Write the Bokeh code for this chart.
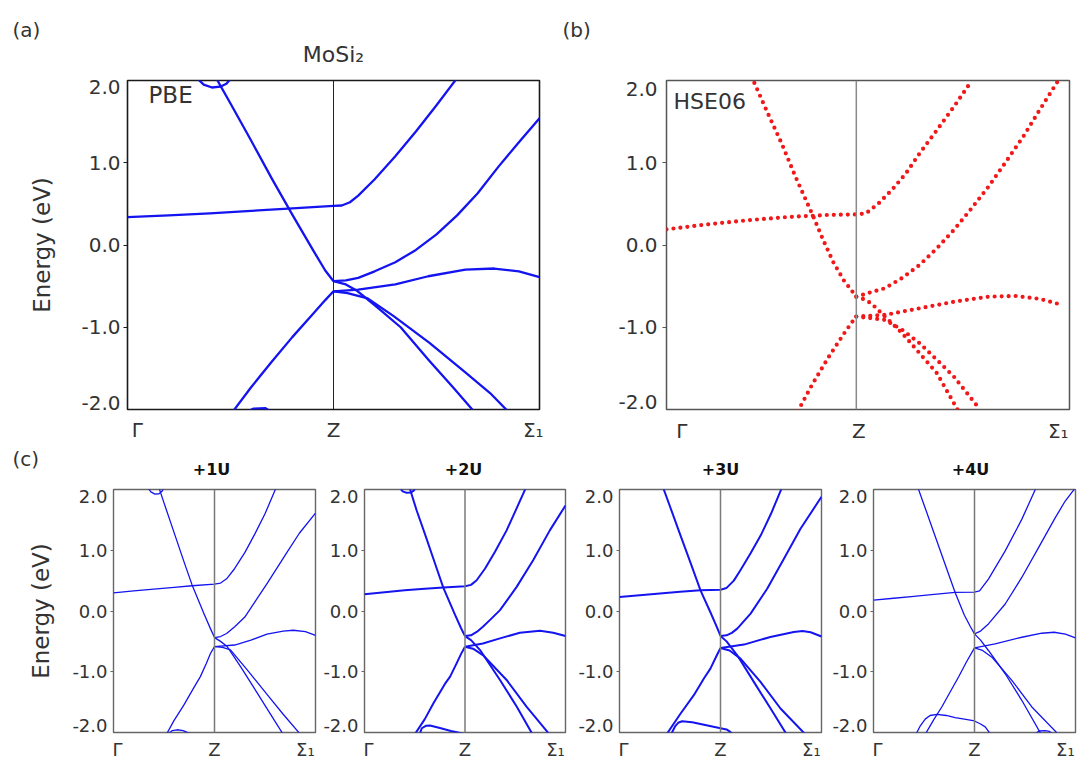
from bokeh.plotting import figure
from bokeh.layouts import column, row
from bokeh.models import Range1d, FixedTicker, Span, Label, CustomJSTickFormatter, LinearAxis
from bokeh.embed import file_html
from bokeh.resources import INLINE

FONT = "DejaVu Sans"
BLUE = "#1414f0"
RED = "#f01818"
TXT = "#333333"

# ---------------- labels / ticks ----------------
y_ticks = [-2.0, -1.0, 0.0, 1.0, 2.0]
y_tick_labels = ["-2.0", "-1.0", "0.0", "1.0", "2.0"]
k_labels = ["Γ", "Z", "Σ₁"]
panel_tags = ["(a)", "(b)", "(c)"]
method_names = ["PBE", "HSE06"]
u_titles = ["+1U", "+2U", "+3U", "+4U"]
compound = "MoSi₂"
energy_label = "Energy (eV)"
z_pbe = 0.5
z_hse = 0.471

# ---------------- (a) PBE bands: (k, E) ----------------
pbe_flat = [(0.00, 0.34), (0.10, 0.36), (0.20, 0.385), (0.30, 0.415), (0.40, 0.445), (0.50, 0.475),
            (0.52, 0.48), (0.54, 0.52), (0.56, 0.60), (0.60, 0.80), (0.65, 1.08), (0.70, 1.38),
            (0.75, 1.70), (0.80, 2.03)]
pbe_steep = [(0.215, 2.03), (0.25, 1.72), (0.30, 1.27), (0.35, 0.81), (0.40, 0.37), (0.45, -0.06),
             (0.48, -0.31), (0.50, -0.44)]
pbe_loop = [(0.168, 2.03), (0.185, 1.95), (0.205, 1.915), (0.225, 1.925), (0.24, 1.96), (0.252, 2.03)]
pbe_rise = [(0.255, -2.03), (0.30, -1.73), (0.35, -1.42), (0.40, -1.12), (0.45, -0.84), (0.48, -0.67),
            (0.50, -0.563)]
pbe_low = [(0.29, -2.03), (0.305, -1.99), (0.335, -1.985), (0.35, -2.03)]
pbe_up = [(0.50, -0.44), (0.53, -0.43), (0.56, -0.40), (0.60, -0.32), (0.65, -0.21), (0.70, -0.06),
          (0.75, 0.13), (0.80, 0.36), (0.85, 0.63), (0.90, 0.95), (0.95, 1.25), (1.00, 1.54)]
pbe_mid = [(0.50, -0.563), (0.56, -0.543), (0.65, -0.48), (0.73, -0.38), (0.82, -0.30), (0.89, -0.286),
           (0.95, -0.32), (1.00, -0.39)]
pbe_down1 = [(0.50, -0.44), (0.53, -0.48), (0.558, -0.56), (0.607, -0.76), (0.663, -1.00), (0.733, -1.41),
             (0.79, -1.73), (0.842, -2.03)]
pbe_down2 = [(0.50, -0.563), (0.534, -0.585), (0.583, -0.65), (0.646, -0.865), (0.733, -1.19), (0.82, -1.55),
             (0.88, -1.80), (0.925, -2.03)]

# ---------------- (b) HSE06 bands ----------------
hse_flat = [(0.00, 0.19), (0.10, 0.25), (0.20, 0.30), (0.30, 0.34), (0.40, 0.365), (0.471, 0.372),
            (0.495, 0.385), (0.525, 0.50), (0.559, 0.668), (0.594, 0.87), (0.628, 1.113), (0.671, 1.397),
            (0.713, 1.68), (0.755, 1.98)]
hse_steep = [(0.218, 1.97), (0.2515, 1.60), (0.2857, 1.235), (0.32, 0.83), (0.3627, 0.364), (0.388, 0.07),
             (0.414, -0.21), (0.44, -0.43), (0.471, -0.628)]
hse_rise = [(0.326, -2.02), (0.36, -1.71), (0.40, -1.38), (0.44, -1.08), (0.46, -0.94), (0.471, -0.87)]
hse_up = [(0.471, -0.628), (0.50, -0.585), (0.542, -0.526), (0.585, -0.40), (0.628, -0.243), (0.671, -0.04),
          (0.713, 0.182), (0.756, 0.44), (0.799, 0.709), (0.842, 1.01), (0.885, 1.316), (0.927, 1.65),
          (0.97, 1.984)]
hse_mid = [(0.471, -0.87), (0.542, -0.85), (0.628, -0.77), (0.713, -0.69), (0.799, -0.628), (0.867, -0.62),
           (0.927, -0.656), (0.983, -0.73)]
hse_down1 = [(0.471, -0.628), (0.49, -0.66), (0.508, -0.709), (0.542, -0.87), (0.585, -1.073), (0.628, -1.316),
             (0.671, -1.559), (0.722, -2.0)]
hse_down2 = [(0.471, -0.87), (0.508, -0.89), (0.542, -0.911), (0.585, -1.032), (0.628, -1.194), (0.671, -1.397),
             (0.713, -1.60), (0.778, -2.0)]

# ---------------- (c) +1U ----------------
u1_flat = [(0.00, 0.30), (0.10, 0.33), (0.20, 0.36), (0.30, 0.39), (0.389, 0.416), (0.50, 0.444), (0.53, 0.46),
           (0.56, 0.53), (0.60, 0.70), (0.65, 0.96), (0.70, 1.27), (0.75, 1.60), (0.805, 2.03)]
u1_steep = [(0.225, 2.03), (0.25, 1.78), (0.30, 1.29), (0.35, 0.80), (0.389, 0.43), (0.45, -0.06), (0.48, -0.29),
            (0.50, -0.438)]
u1_loop = [(0.17, 2.03), (0.185, 1.96), (0.205, 1.925), (0.225, 1.93), (0.24, 1.97), (0.25, 2.03)]
u1_rise = [(0.262, -2.03), (0.30, -1.80), (0.348, -1.55), (0.40, -1.25), (0.43, -1.08), (0.46, -0.86),
           (0.48, -0.70), (0.50, -0.586)]
u1_low = [(0.27, -2.02), (0.29, -1.97), (0.315, -1.955), (0.345, -1.97), (0.38, -2.02)]
u1_up = [(0.50, -0.438), (0.53, -0.42), (0.56, -0.37), (0.60, -0.26), (0.65, -0.10), (0.70, 0.15), (0.76, 0.45),
         (0.85, 0.92), (0.92, 1.28), (1.00, 1.61)]
u1_mid = [(0.50, -0.586), (0.60, -0.56), (0.68, -0.48), (0.76, -0.38), (0.84, -0.33), (0.89, -0.317),
          (0.95, -0.34), (1.00, -0.40)]
u1_down1 = [(0.50, -0.438), (0.53, -0.50), (0.563, -0.586), (0.629, -0.915), (0.712, -1.353), (0.77, -1.66),
            (0.84, -2.03)]
u1_down2 = [(0.50, -0.586), (0.54, -0.60), (0.579, -0.641), (0.662, -0.97), (0.762, -1.38), (0.84, -1.70),
            (0.925, -2.03)]

# ---------------- (c) +2U ----------------
u2_flat = [(0.00, 0.276), (0.10, 0.31), (0.20, 0.34), (0.30, 0.365), (0.392, 0.386), (0.50, 0.408), (0.53, 0.43),
           (0.558, 0.506), (0.60, 0.70), (0.65, 0.98), (0.707, 1.327), (0.75, 1.64), (0.803, 2.03)]
u2_steep = [(0.224, 2.03), (0.26, 1.65), (0.30, 1.275), (0.35, 0.79), (0.392, 0.386), (0.45, -0.06),
            (0.48, -0.28), (0.50, -0.413)]
u2_loop = [(0.175, 2.03), (0.19, 1.97), (0.21, 1.945), (0.23, 1.95), (0.245, 1.98), (0.255, 2.03)]
u2_rise = [(0.25, -2.03), (0.30, -1.78), (0.343, -1.52), (0.40, -1.20), (0.426, -1.08), (0.46, -0.85),
           (0.48, -0.71), (0.50, -0.588)]
u2_low = [(0.275, -2.02), (0.285, -1.93), (0.305, -1.89), (0.326, -1.885), (0.38, -1.93), (0.43, -1.975),
          (0.46, -1.995), (0.49, -2.02)]
u2_up = [(0.50, -0.413), (0.53, -0.40), (0.56, -0.34), (0.589, -0.26), (0.63, -0.13), (0.674, 0.014),
         (0.757, 0.397), (0.839, 0.834), (0.922, 1.327), (1.00, 1.737)]
u2_mid = [(0.50, -0.588), (0.589, -0.534), (0.674, -0.451), (0.773, -0.358), (0.873, -0.326), (0.939, -0.358),
          (1.00, -0.413)]
u2_down1 = [(0.50, -0.413), (0.53, -0.48), (0.575, -0.643), (0.674, -1.135), (0.757, -1.573), (0.836, -2.03)]
u2_down2 = [(0.50, -0.588), (0.54, -0.62), (0.589, -0.725), (0.707, -1.135), (0.806, -1.573), (0.92, -2.03)]

# ---------------- (c) +3U ----------------
u3_flat = [(0.00, 0.23), (0.10, 0.26), (0.20, 0.29), (0.30, 0.315), (0.401, 0.34), (0.50, 0.351), (0.53, 0.38),
           (0.566, 0.50), (0.60, 0.68), (0.649, 0.95), (0.70, 1.25), (0.75, 1.60), (0.804, 2.03)]
u3_steep = [(0.216, 2.03), (0.25, 1.72), (0.30, 1.26), (0.35, 0.81), (0.401, 0.34), (0.45, -0.02),
            (0.48, -0.25), (0.50, -0.411)]
u3_rise = [(0.233, -2.03), (0.30, -1.70), (0.368, -1.386), (0.42, -1.10), (0.45, -0.948), (0.48, -0.74),
           (0.50, -0.608)]
u3_low = [(0.255, -2.03), (0.275, -1.90), (0.29, -1.84), (0.31, -1.815), (0.36, -1.83), (0.43, -1.88),
          (0.50, -1.93), (0.53, -1.95), (0.545, -1.98), (0.56, -2.03)]
u3_up = [(0.50, -0.411), (0.53, -0.40), (0.556, -0.36), (0.583, -0.29), (0.649, -0.044), (0.731, 0.367),
         (0.814, 0.86), (0.896, 1.353), (1.00, 1.88)]
u3_mid = [(0.50, -0.608), (0.616, -0.553), (0.747, -0.427), (0.863, -0.345), (0.906, -0.33), (0.946, -0.35),
          (1.00, -0.42)]
u3_down1 = [(0.50, -0.411), (0.53, -0.50), (0.583, -0.729), (0.665, -1.167), (0.748, -1.605), (0.827, -2.03)]
u3_down2 = [(0.50, -0.608), (0.545, -0.65), (0.599, -0.784), (0.698, -1.167), (0.797, -1.605), (0.92, -2.03)]

# ---------------- (c) +4U ----------------
u4_flat = [(0.00, 0.18), (0.10, 0.21), (0.20, 0.24), (0.30, 0.275), (0.404, 0.306), (0.50, 0.31),
           (0.525, 0.333), (0.569, 0.525), (0.652, 0.989), (0.734, 1.508), (0.805, 2.03)]
u4_steep = [(0.22, 2.03), (0.25, 1.75), (0.30, 1.28), (0.35, 0.81), (0.404, 0.306), (0.45, -0.07),
            (0.48, -0.26), (0.50, -0.377)]
u4_rise = [(0.256, -2.03), (0.30, -1.78), (0.338, -1.58), (0.38, -1.33), (0.421, -1.087), (0.46, -0.84),
           (0.50, -0.607)]
u4_low = [(0.21, -2.03), (0.23, -1.90), (0.256, -1.78), (0.28, -1.72), (0.314, -1.70), (0.36, -1.72),
          (0.404, -1.754), (0.45, -1.78), (0.50, -1.81), (0.53, -1.86), (0.553, -1.907), (0.58, -2.03)]
u4_tail = [(0.80, -2.02), (0.82, -1.975), (0.85, -1.97), (0.87, -1.98), (0.885, -2.02)]
u4_up = [(0.50, -0.377), (0.53, -0.33), (0.569, -0.213), (0.652, 0.115), (0.734, 0.552), (0.817, 1.044),
         (0.90, 1.536), (0.949, 1.81), (1.00, 2.03)]
u4_mid = [(0.50, -0.607), (0.602, -0.54), (0.734, -0.432), (0.833, -0.366), (0.894, -0.35), (0.95, -0.38),
          (1.00, -0.443)]
u4_down1 = [(0.50, -0.377), (0.53, -0.48), (0.569, -0.65), (0.652, -1.033), (0.734, -1.47), (0.83, -2.03)]
u4_down2 = [(0.50, -0.607), (0.54, -0.65), (0.586, -0.76), (0.685, -1.142), (0.784, -1.579), (0.915, -2.03)]

pbe_bands = [pbe_flat, pbe_steep, pbe_loop, pbe_rise, pbe_low, pbe_up, pbe_mid, pbe_down1, pbe_down2]
hse_bands = [hse_flat, hse_steep, hse_rise, hse_up, hse_mid, hse_down1, hse_down2]
u1_bands = [u1_flat, u1_steep, u1_loop, u1_rise, u1_low, u1_up, u1_mid, u1_down1, u1_down2]
u2_bands = [u2_flat, u2_steep, u2_loop, u2_rise, u2_low, u2_up, u2_mid, u2_down1, u2_down2]
u3_bands = [u3_flat, u3_steep, u3_rise, u3_low, u3_up, u3_mid, u3_down1, u3_down2]
u4_bands = [u4_flat, u4_steep, u4_rise, u4_low, u4_tail, u4_up, u4_mid, u4_down1, u4_down2]


def band_panel(w, h, bl, br, bt, bb, z_k, bands, color, lw, tick_size, outline, outline_w,
               zcol, zw, tick_len, tick_gap, end_inset_px, frame_h, kpos, klab_size, klab_std, dotted=False):
    p = figure(width=w, height=h, x_range=Range1d(0, 1), y_range=Range1d(-2, 2),
               min_border_left=bl, min_border_right=br, min_border_top=bt, min_border_bottom=bb,
               title=None, y_axis_location=None, output_backend="svg", toolbar_location=None)
    p.grid.visible = False
    p.outline_line_color = outline
    p.outline_line_width = outline_w
    p.background_fill_color = "white"
    p.border_fill_color = "white"
    # inner axis: short outward tick marks at the interior ticks only
    marks = LinearAxis(ticker=FixedTicker(ticks=y_ticks[1:-1], minor_ticks=[]),
                       formatter=CustomJSTickFormatter(code="return ''"),
                       axis_line_color=None, major_tick_line_color=outline, major_tick_out=tick_len,
                       major_tick_in=0, minor_tick_line_color=None, major_label_standoff=0,
                       major_label_text_font_size="1px")
    # outer axis: value labels; the end labels sit just inside the frame, as in the original
    inset = end_inset_px * 4.0 / frame_h
    label_pos = [y_ticks[0] + inset] + y_ticks[1:-1] + [y_ticks[-1] - inset]
    ax = LinearAxis(ticker=FixedTicker(ticks=label_pos, minor_ticks=[]),
                    formatter=CustomJSTickFormatter(args=dict(labels=y_tick_labels), code="return labels[index]"),
                    axis_line_color=None, major_tick_line_color=None, major_tick_out=0, major_tick_in=0,
                    minor_tick_line_color=None, major_label_standoff=tick_gap,
                    major_label_text_font=FONT, major_label_text_font_size=f"{tick_size}px",
                    major_label_text_color=TXT)
    p.add_layout(marks, "left")
    p.add_layout(ax, "left")
    xa = p.xaxis[0]
    xa.ticker = FixedTicker(ticks=kpos, minor_ticks=[])
    xa.formatter = CustomJSTickFormatter(args=dict(labels=k_labels), code="return labels[index]")
    xa.axis_line_color = None
    xa.major_tick_line_color = None
    xa.minor_tick_line_color = None
    xa.major_tick_out = 0
    xa.major_tick_in = 0
    xa.major_label_standoff = klab_std
    xa.major_label_text_font = FONT
    xa.major_label_text_font_size = f"{klab_size}px"
    xa.major_label_text_color = TXT
    p.add_layout(Span(location=z_k, dimension="height", line_color=zcol, line_width=zw))
    for band in bands:
        ks = [pt[0] for pt in band]
        es = [pt[1] for pt in band]
        if dotted:
            p.line(ks, es, line_color=color, line_width=lw, line_dash="0 7", line_cap="round")
        else:
            p.line(ks, es, line_color=color, line_width=lw, line_join="round")
    return p, ax


def text_strip(w, h):
    s = figure(width=w, height=h, x_range=Range1d(0, w), y_range=Range1d(h, 0), min_border=0,
               x_axis_location=None, y_axis_location=None, title=None,
               output_backend="svg", toolbar_location=None)
    s.grid.visible = False
    s.outline_line_color = None
    s.background_fill_color = "white"
    s.border_fill_color = "white"
    return s


def put(p, x, y, text, size, align="center", bold=False, color=TXT):
    p.add_layout(Label(x=x, y=y, text=text, text_font=FONT, text_font_size=f"{size}px",
                       text_align=align, text_baseline="middle", text_color=color,
                       text_font_style="bold" if bold else "normal"))


def ylabel(ax, standoff, size):
    ax.axis_label = energy_label
    ax.axis_label_text_font = FONT
    ax.axis_label_text_font_size = f"{size}px"
    ax.axis_label_text_font_style = "normal"
    ax.axis_label_text_color = TXT
    ax.axis_label_standoff = standoff


TOTAL_W = 1077

# ---------------- header strip (y 0..68) ----------------
head = text_strip(TOTAL_W, 68)
put(head, 12, 29, panel_tags[0], 20, align="left")
put(head, 562, 29, panel_tags[1], 20, align="left")
put(head, 333, 54, compound, 22)

# ---------------- top row (y 68..447) ----------------
FA_W, FA_H = 412, 332
fa, fa_ax = band_panel(556, 379, 127, 17, 11, 36, z_pbe, pbe_bands, BLUE, 2.3, 20, "#1a1a1a", 1.6,
                       "#222222", 1.0, 4, 3, 7, FA_H, [0.024, z_pbe, 0.985], 20, 8)
ylabel(fa_ax, 23, 23)
sa = 4.0 / FA_H
put(fa, 21 / FA_W, 2 - 15 * sa, method_names[0], 23, align="left")

FB_W, FB_H = 403, 329
fb, fb_ax = band_panel(521, 379, 110, 8, 12, 38, z_hse, hse_bands, RED, 4.2, 20, "#555555", 1.5,
                       "#8a8a8a", 1.5, 4, 5, 8, FB_H, [0.038, z_hse + 0.006, 0.972], 20, 9, dotted=True)
sb = 4.0 / FB_H
put(fb, 7 / FB_W, 2 - 21 * sb, method_names[1], 22, align="left")

# ---------------- middle strip (y 447..481) ----------------
mid = text_strip(TOTAL_W, 34)
put(mid, 12, 11, panel_tags[2], 20, align="left")
for cx, t in zip([211, 463, 720, 970], u_titles):
    put(mid, cx, 22, t, 16, bold=True, color="#111111")

# ---------------- bottom row (y 481..763) ----------------
FC_H = 243
specs = [
    (319, 113, 4, u1_bands, 1.3),
    (250, 45, 4, u2_bands, 2.0),
    (256, 50, 4, u3_bands, 2.0),
    (252, 48, 2, u4_bands, 1.3),
]
bottom = []
first_ax = None
for (w, bl, br, bands, lw) in specs:
    f, f_ax = band_panel(w, 282, bl, br, 8, 31, z_pbe, bands, BLUE, lw, 18, "#666666", 1.4,
                         "#7a7a7a", 1.5, 3, 3, 7, FC_H, [0.02, z_pbe, 0.95], 18, 6)
    bottom.append(f)
    if first_ax is None:
        first_ax = f_ax
ylabel(first_ax, 15, 23)

layout = column(head, row(fa, fb), mid, row(*bottom))
open("out.html", "w").write(file_html(layout, INLINE))
